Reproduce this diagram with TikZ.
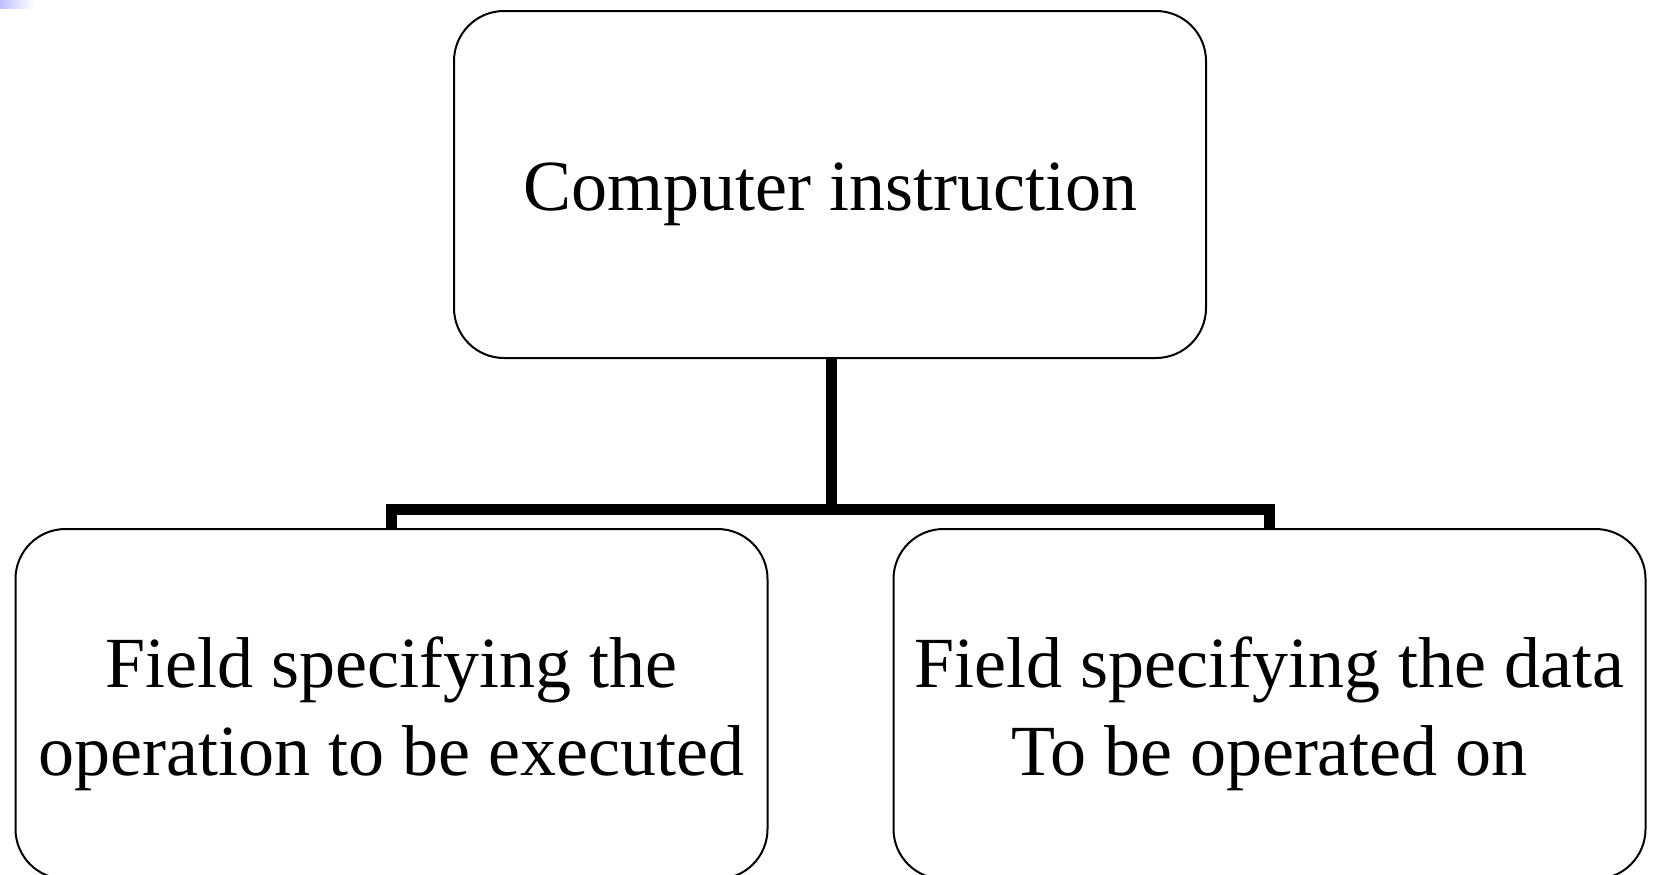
\documentclass[tikz,border=0pt]{standalone}
\usepackage{fontspec}
\setmainfont{Liberation Serif}
\usetikzlibrary{positioning}

\tikzset{
    field/.style={draw, line width=1pt, rounded corners=25pt,
        minimum width=376pt, minimum height=175pt},
    caption/.style={align=center, inner sep=0pt,
        font=\fontsize{36}{43.75}\selectfont},
    branch/.style={line width=5.5pt, line join=miter}
}

\begin{document}
\begin{tikzpicture}[x=0.5pt,y=-0.5pt]
        \useasboundingbox (0,0) rectangle (1653,874);
        \clip (0,0) rectangle (1653,874);

        % little tint in the corner
        \shade[left color=blue!25, right color=white] (0,0) rectangle (34,8);

        \node[field, minimum height=173.5pt] (instr) at (830,184.5) {};
        \node[field] (op) at (391.5,704) {};
        \node[field] (dat) at (1269.5,704) {};

        \node[caption] (instrtext) at ([yshift=-5pt]instr.center) {Computer instruction};
        \node[caption] (optext) at ([yshift=-5pt]op.center) {Field specifying the\\operation to be executed};
        \node[caption] (dattext) at ([yshift=-5pt]dat.center) {Field specifying the data\\To be operated on};

        % tree branches
        \coordinate (fork) at (831,509);
        \draw[branch] (instr.south -| fork) -- (fork);
        \draw[branch] (op.north) |- (fork) -| (dat.north);
    \end{tikzpicture}
\end{document}
